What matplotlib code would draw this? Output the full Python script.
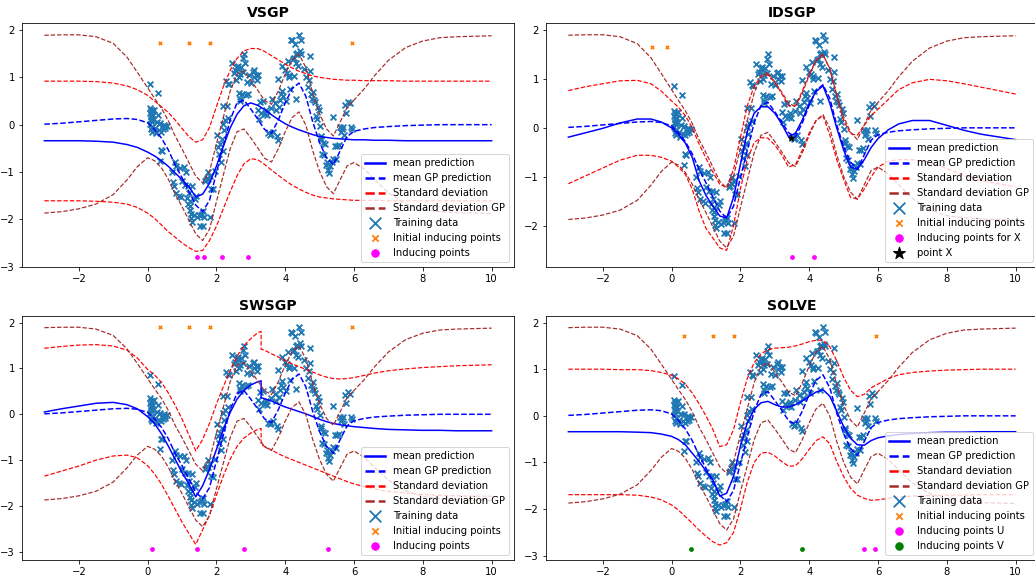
import matplotlib
matplotlib.use("Agg")
import matplotlib.pyplot as plt

# ---------------- data ----------------
X = [-3, -2.5, -2, -1.5, -1, -0.6, -0.3, 0, 0.2, 0.4, 0.6, 0.8, 1.0, 1.2, 1.4, 1.6, 1.8, 2.0, 2.2, 2.4,
     2.6, 2.8, 3.0, 3.2, 3.4, 3.6, 3.8, 4.0, 4.2, 4.4, 4.6, 4.8, 5.0, 5.2, 5.4, 5.6, 5.8, 6.0, 6.3, 6.6,
     7.0, 7.5, 8.0, 8.5, 9.0, 10.0]
# SWSGP has a jump at x = 3.3
X_SW = [-3, -2.5, -2, -1.5, -1, -0.6, -0.3, 0, 0.2, 0.4, 0.6, 0.8, 1.0, 1.2, 1.4, 1.6, 1.8, 2.0, 2.2, 2.4,
        2.6, 2.8, 3.0, 3.2, 3.3, 3.3, 3.4, 3.6, 3.8, 4.0, 4.2, 4.4, 4.6, 4.8, 5.0, 5.2, 5.4, 5.6, 5.8, 6.0,
        6.3, 6.6, 7.0, 7.5, 8.0, 8.5, 9.0, 10.0]

GP_MEAN = [0.01, 0.03, 0.06, 0.09, 0.12, 0.13, 0.11, 0.04, -0.1, -0.28, -0.53, -0.85, -1.12, -1.41, -1.7,
           -1.84, -1.6, -1.02, -0.46, 0.1, 0.46, 0.52, 0.33, 0.12, -0.1, -0.18, 0.1, 0.46, 0.76, 0.88,
           0.6, 0.06, -0.38, -0.7, -0.85, -0.55, -0.25, -0.14, -0.09, -0.06, -0.04, -0.02, -0.01, 0, 0, 0]
GP_UP = [1.89, 1.9, 1.9, 1.86, 1.72, 1.43, 1.11, 0.78, 0.56, 0.35, 0.09, -0.24, -0.51, -0.8, -1.09,
         -1.23, -0.99, -0.41, 0.15, 0.71, 1.07, 1.13, 0.94, 0.73, 0.51, 0.43, 0.71, 1.07, 1.37, 1.49,
         1.21, 0.67, 0.23, -0.09, -0.24, 0.06, 0.37, 0.52, 0.76, 1.04, 1.36, 1.63, 1.77, 1.84, 1.86, 1.88]
GP_LO = [-1.87, -1.84, -1.78, -1.68, -1.48, -1.17, -0.89, -0.7, -0.76, -0.91, -1.15, -1.46, -1.73, -2.02,
         -2.31, -2.45, -2.21, -1.63, -1.07, -0.51, -0.15, -0.09, -0.28, -0.49, -0.71, -0.79, -0.51, -0.15,
         0.15, 0.27, -0.01, -0.55, -0.99, -1.31, -1.46, -1.16, -0.87, -0.8, -0.94, -1.16, -1.44, -1.67,
         -1.79, -1.84, -1.86, -1.88]

VSGP_MEAN = [-0.34, -0.34, -0.34, -0.35, -0.37, -0.42, -0.48, -0.58, -0.66, -0.76, -0.88, -1.02, -1.16,
             -1.31, -1.53, -1.47, -1.24, -0.88, -0.46, -0.07, 0.22, 0.4, 0.46, 0.41, 0.32, 0.21, 0.11,
             0.02, -0.05, -0.11, -0.16, -0.21, -0.25, -0.27, -0.29, -0.3, -0.31, -0.32, -0.32, -0.33,
             -0.33, -0.34, -0.34, -0.34, -0.34, -0.34]
VSGP_UP = [0.92, 0.92, 0.92, 0.91, 0.88, 0.82, 0.74, 0.62, 0.5, 0.38, 0.26, 0.1, -0.08, -0.25, -0.37,
           -0.32, -0.06, 0.38, 0.8, 1.15, 1.4, 1.56, 1.61, 1.61, 1.55, 1.46, 1.37, 1.28, 1.2, 1.13, 1.08,
           1.03, 1.0, 0.98, 0.96, 0.95, 0.94, 0.94, 0.93, 0.93, 0.93, 0.92, 0.92, 0.92, 0.92, 0.92]
VSGP_LO = [-1.61, -1.61, -1.61, -1.62, -1.64, -1.68, -1.75, -1.87, -1.98, -2.12, -2.26, -2.38, -2.5,
           -2.6, -2.68, -2.66, -2.45, -2.15, -1.78, -1.42, -1.08, -0.83, -0.72, -0.74, -0.84, -0.96,
           -1.07, -1.18, -1.28, -1.36, -1.43, -1.49, -1.53, -1.55, -1.57, -1.58, -1.59, -1.6, -1.6, -1.6,
           -1.61, -1.61, -1.61, -1.61, -1.61, -1.61]

IDSGP_MEAN = [-0.19, -0.1, -0.01, 0.1, 0.18, 0.18, 0.12, 0.0, -0.13, -0.31, -0.6, -1.08, -1.38, -1.6,
              -1.8, -1.84, -1.42, -0.75, -0.08, 0.3, 0.43, 0.43, 0.3, 0.08, -0.18, -0.11, 0.16, 0.5, 0.74,
              0.86, 0.5, 0.0, -0.45, -0.8, -0.84, -0.65, -0.4, -0.22, -0.04, 0.08, 0.15, 0.15, 0.05,
              -0.05, -0.13, -0.24]
IDSGP_UP = [0.76, 0.84, 0.9, 0.96, 0.97, 0.9, 0.75, 0.55, 0.42, 0.25, 0.0, -0.33, -0.62, -0.9, -1.15,
            -1.22, -0.85, -0.2, 0.45, 0.85, 1.05, 1.08, 0.93, 0.7, 0.45, 0.45, 0.75, 1.1, 1.38, 1.5, 1.2,
            0.65, 0.15, -0.12, -0.15, 0.05, 0.25, 0.38, 0.58, 0.78, 0.92, 0.99, 0.96, 0.9, 0.83, 0.69]
IDSGP_LO = [-1.14, -0.98, -0.82, -0.66, -0.56, -0.56, -0.6, -0.68, -0.8, -0.95, -1.25, -1.7, -2.05,
            -2.25, -2.45, -2.5, -2.0, -1.25, -0.65, -0.3, -0.2, -0.21, -0.35, -0.55, -0.8, -0.75, -0.45,
            -0.1, 0.15, 0.25, -0.15, -0.65, -1.05, -1.42, -1.45, -1.25, -1.0, -0.8, -0.68, -0.65, -0.65,
            -0.7, -0.83, -0.97, -1.08, -1.2]

SWSGP_MEAN = [0.05, 0.12, 0.18, 0.24, 0.26, 0.21, 0.12, -0.05, -0.2, -0.42, -0.69, -0.98, -1.27, -1.52,
              -1.8, -1.56, -1.2, -0.77, -0.33, 0.04, 0.33, 0.52, 0.64, 0.71, 0.73, 0.36, 0.34, 0.29, 0.22,
              0.16, 0.11, 0.06, 0.01, -0.05, -0.11, -0.16, -0.2, -0.23, -0.25, -0.27, -0.29, -0.31,
              -0.33, -0.34, -0.35, -0.35, -0.36, -0.36]
SWSGP_UP = [1.44, 1.48, 1.51, 1.52, 1.49, 1.4, 1.23, 0.98, 0.86, 0.7, 0.47, 0.2, -0.1, -0.45, -0.8,
            -0.55, -0.2, 0.22, 0.6, 0.95, 1.27, 1.5, 1.65, 1.78, 1.81, 1.42, 1.4, 1.32, 1.25, 1.17, 1.1,
            1.04, 0.98, 0.92, 0.86, 0.81, 0.78, 0.77, 0.78, 0.8, 0.85, 0.9, 0.95, 0.99, 1.02, 1.04, 1.06,
            1.08]
SWSGP_LO = [-1.35, -1.24, -1.13, -1.0, -0.91, -0.89, -0.95, -1.12, -1.3, -1.52, -1.79, -2.07, -2.35,
            -2.6, -2.84, -2.52, -2.2, -1.77, -1.35, -0.98, -0.7, -0.52, -0.41, -0.33, -0.31, -0.66, -0.7,
            -0.78, -0.86, -0.93, -0.99, -1.05, -1.11, -1.17, -1.23, -1.29, -1.35, -1.41, -1.47, -1.52,
            -1.58, -1.63, -1.68, -1.72, -1.75, -1.77, -1.78, -1.79]

SOLVE_MEAN = [-0.34, -0.34, -0.34, -0.34, -0.35, -0.36, -0.39, -0.44, -0.51, -0.62, -0.8, -0.98, -1.18,
              -1.37, -1.72, -1.66, -1.3, -0.65, -0.15, 0.14, 0.28, 0.31, 0.24, 0.19, 0.19, 0.24, 0.32,
              0.42, 0.51, 0.56, 0.42, 0.1, -0.23, -0.48, -0.62, -0.63, -0.53, -0.47, -0.43, -0.4, -0.38,
              -0.36, -0.35, -0.35, -0.34, -0.34]
SOLVE_UP = [1.0, 1.0, 1.0, 0.99, 0.99, 0.97, 0.93, 0.87, 0.79, 0.68, 0.49, 0.26, 0.0, -0.29, -0.66,
            -0.62, -0.3, 0.28, 0.8, 1.14, 1.33, 1.42, 1.45, 1.46, 1.47, 1.5, 1.54, 1.59, 1.62, 1.62, 1.48,
            1.18, 0.83, 0.55, 0.41, 0.46, 0.6, 0.68, 0.8, 0.88, 0.93, 0.96, 0.98, 0.99, 1.0, 1.0]
SOLVE_LO = [-1.69, -1.69, -1.69, -1.69, -1.7, -1.74, -1.8, -1.91, -2.02, -2.16, -2.3, -2.45, -2.58, -2.7,
            -2.77, -2.72, -2.5, -2.0, -1.42, -1.0, -0.8, -0.78, -0.86, -0.98, -1.08, -1.07, -0.92, -0.72,
            -0.53, -0.45, -0.6, -0.98, -1.3, -1.55, -1.7, -1.77, -1.81, -1.8, -1.77, -1.74, -1.72, -1.71,
            -1.7, -1.7, -1.69, -1.69]

TRAIN_X = [0.08, 0.07, 0.09, 0.08, 0.10, 0.09, 0.11, 0.08, 0.12, 0.10, 0.14, 0.15, 0.13, 0.16,
           0.20, 0.22, 0.25, 0.27, 0.31, 0.30, 0.34, 0.37, 0.40, 0.42, 0.45, 0.48, 0.50, 0.52, 0.38, 0.41, 0.35, 0.55,
           0.72, 0.75, 0.80, 0.84, 0.82, 0.90, 0.93, 0.97, 0.99, 0.78,
           1.05, 1.10, 1.13, 1.18, 1.20, 1.22, 1.22, 1.24, 1.25, 1.27, 1.30, 1.30, 1.18, 1.15,
           1.35, 1.38, 1.42, 1.45, 1.48, 1.52, 1.55, 1.58, 1.60, 1.62, 1.65, 1.68, 1.70,
           1.72, 1.75, 1.77, 1.80, 1.82, 1.85, 1.90, 1.95,
           2.02, 2.05, 2.08, 2.10, 2.12, 2.15, 2.18, 2.20, 2.22, 2.26, 2.28, 2.30, 2.33, 2.35, 2.38, 2.20,
           2.45, 2.50, 2.55, 2.58, 2.60, 2.62, 2.64, 2.65, 2.66, 2.68, 2.70, 2.72, 2.74, 2.76, 2.78, 2.80, 2.82, 2.70, 2.85, 2.88,
           2.92, 2.95, 3.00, 3.05, 3.08, 3.10, 3.15, 3.18, 3.20, 3.22, 3.25, 3.28, 3.30,
           3.35, 3.40, 3.42, 3.45, 3.48, 3.50, 3.55, 3.58, 3.60, 3.62, 3.65, 3.70, 3.72, 3.75, 3.78, 3.80, 3.82, 3.85, 3.88, 3.90,
           3.92, 3.95, 4.00, 4.02, 4.05, 4.08, 4.10, 4.12, 4.15, 4.18, 4.20, 4.22, 4.25, 4.28, 4.30, 4.32, 4.35, 4.38, 4.40, 4.42, 4.45, 4.46, 4.25, 4.30,
           4.55, 4.60, 4.65, 4.68, 4.72, 4.73, 4.75, 4.78, 4.80, 4.85, 4.88, 4.90, 4.92, 4.95, 4.98, 5.00,
           5.03, 5.05, 5.08, 5.10, 5.12, 5.15, 5.18, 5.22, 5.25, 5.28, 5.30, 5.35, 5.38, 5.40, 5.45, 5.48,
           5.52, 5.55, 5.58, 5.62, 5.65, 5.68, 5.72, 5.75, 5.78, 5.82, 5.88, 5.92, 5.95]
TRAIN_Y = [0.86, 0.35, 0.30, 0.24, 0.18, 0.12, 0.07, 0.02, -0.05, -0.10, 0.30, 0.20, -0.15, 0.10,
           0.32, -0.08, -0.18, 0.05, 0.67, 0.21, -0.12, 0.03, -0.15, -0.05, -0.10, 0.00, -0.03, -0.08, -0.53, -0.55, -0.76, -0.02,
           -1.00, -1.22, -0.80, -0.88, -1.45, -1.50, -0.92, -1.53, -1.20, -1.30,
           -0.90, -1.28, -1.00, -1.29, -1.45, -1.62, -1.72, -1.80, -1.98, -1.88, -1.30, -2.05, -1.68, -1.55,
           -1.92, -1.58, -1.50, -1.96, -1.92, -2.15, -1.90, -1.88, -1.83, -2.15, -1.95, -1.20, -1.18,
           -1.12, -1.15, -1.00, -1.08, -1.95, -1.35, -1.36, -0.98,
           -0.22, -0.48, -0.62, -0.40, -0.78, -0.30, -0.55, 0.40, -0.12, 0.10, 0.93, 0.40, 0.87, 0.15, 0.85, 0.02,
           1.30, 1.10, 1.15, 0.95, 1.22, 1.25, 1.18, 1.00, 0.68, 0.55, 1.08, 1.22, 0.65, 1.12, 1.40, 1.50, 1.30, 0.50, 0.62, 0.90,
           0.65, 1.05, 0.88, 1.12, 1.00, 1.15, 1.05, 0.95, 1.05, 0.32, 0.12, 0.48, 0.25,
           0.50, 0.22, 0.25, 0.30, 0.20, -0.18, -0.22, 0.35, -0.20, 0.55, -0.15, 0.45, 0.30, -0.25, 0.97, -0.32, 0.38, 0.52, 0.65, 0.72,
           1.25, 0.60, 1.15, 0.50, 1.10, 1.35, 1.05, 1.00, 0.75, 1.80, 1.78, 1.38, 1.40, 1.70, 1.30, 1.50, 1.52, 1.25, 1.90, 1.55, 1.80, 1.50, 1.02, 0.55,
           1.18, 1.00, 0.80, 0.95, 1.45, 1.13, 0.65, 0.55, 0.70, 0.52, 0.47, 0.18, 0.12, 0.38, 0.30, -0.02,
           -0.25, -0.30, -0.62, -0.38, -0.65, -0.40, -0.85, -0.78, -0.95, -1.02, -0.88, -0.80, 0.17, -0.72, -0.45, -0.73,
           -0.45, -0.42, -0.05, -0.15, -0.10, -0.05, -0.22, 0.42, 0.25, 0.48, 0.45, -0.05, -0.10]

INIT_IND_X = [0.36, 1.2, 1.8, 5.95]
INIT_IND_Y_VSGP = 1.72
INIT_IND_Y_SWSGP = 1.9
INIT_IND_Y_SOLVE = 1.72
IDSGP_INIT_X = [-0.56, -0.14]
IDSGP_INIT_Y = 1.65

VSGP_IND_X = [1.44, 1.65, 2.17, 2.93]
VSGP_IND_Y = -2.79
IDSGP_IND_X = [3.51, 4.14]
IDSGP_IND_Y = -2.63
IDSGP_POINT = (3.48, -0.2)
SWSGP_IND_X = [0.13, 1.43, 2.79, 5.23]
SWSGP_IND_Y = -2.95
SOLVE_U_X = [5.6, 5.91]
SOLVE_V_X = [0.56, 3.78]
SOLVE_IND_Y = -2.86

# ---------------- figure ----------------
W, H = 1035, 575
fig = plt.figure(figsize=(W / 72, H / 72), dpi=72)

aw, ah = 492 / W, 244 / H
pos = {
    "VSGP": [22 / W, (H - 267) / H, aw, ah],
    "IDSGP": [546 / W, (H - 267) / H, aw, ah],
    "SWSGP": [22 / W, (H - 560) / H, aw, ah],
    "SOLVE": [546 / W, (H - 560) / H, aw, ah],
}
ylims = {"VSGP": (-3.01, 2.15), "IDSGP": (-2.84, 2.14), "SWSGP": (-3.18, 2.145), "SOLVE": (-3.09, 2.14)}


def base(ax, xs, mean, up, lo):
    ax.plot(xs, mean, color="blue", lw=1.5, label="mean prediction")
    ax.plot(X, GP_MEAN, color="blue", ls="--", lw=1.5, label="mean GP prediction")
    ax.plot(xs, up, color="red", ls="--", lw=1.2, label="Standard deviation")
    ax.plot(xs, lo, color="red", ls="--", lw=1.2)
    ax.plot(X, GP_UP, color="brown", ls="--", lw=1.2, label="Standard deviation GP")
    ax.plot(X, GP_LO, color="brown", ls="--", lw=1.2)
    ax.scatter(TRAIN_X, TRAIN_Y, marker="x", s=34, color="#1f77b4", linewidths=1.8, label="Training data")


def finish(ax, name):
    ax.set_title(name, fontsize=14, fontweight="bold")
    ax.set_xlim(-3.65, 10.65)
    ax.set_ylim(*ylims[name])
    leg = ax.legend(loc="lower right", fontsize=10, markerscale=2)
    for ln in leg.get_lines():
        ln.set_linewidth(2.5)


ax = fig.add_axes(pos["VSGP"])
base(ax, X, VSGP_MEAN, VSGP_UP, VSGP_LO)
ax.scatter(INIT_IND_X, [INIT_IND_Y_VSGP] * len(INIT_IND_X), marker="x", s=10, color="#ff7f0e",
           linewidths=1.8, label="Initial inducing points")
ax.scatter(VSGP_IND_X, [VSGP_IND_Y] * len(VSGP_IND_X), marker="o", s=14, color="magenta", label="Inducing points")
finish(ax, "VSGP")

ax = fig.add_axes(pos["IDSGP"])
base(ax, X, IDSGP_MEAN, IDSGP_UP, IDSGP_LO)
ax.scatter(IDSGP_INIT_X, [IDSGP_INIT_Y] * len(IDSGP_INIT_X), marker="x", s=10, color="#ff7f0e",
           linewidths=1.8, label="Initial inducing points")
ax.scatter(IDSGP_IND_X, [IDSGP_IND_Y] * len(IDSGP_IND_X), marker="o", s=14, color="magenta",
           label="Inducing points for X")
ax.scatter([IDSGP_POINT[0]], [IDSGP_POINT[1]], marker="*", s=40, color="black", label="point X", zorder=5)
finish(ax, "IDSGP")

ax = fig.add_axes(pos["SWSGP"])
base(ax, X_SW, SWSGP_MEAN, SWSGP_UP, SWSGP_LO)
ax.scatter(INIT_IND_X, [INIT_IND_Y_SWSGP] * len(INIT_IND_X), marker="x", s=10, color="#ff7f0e",
           linewidths=1.8, label="Initial inducing points")
ax.scatter(SWSGP_IND_X, [SWSGP_IND_Y] * len(SWSGP_IND_X), marker="o", s=14, color="magenta", label="Inducing points")
finish(ax, "SWSGP")

ax = fig.add_axes(pos["SOLVE"])
base(ax, X, SOLVE_MEAN, SOLVE_UP, SOLVE_LO)
ax.scatter(INIT_IND_X, [INIT_IND_Y_SOLVE] * len(INIT_IND_X), marker="x", s=10, color="#ff7f0e",
           linewidths=1.8, label="Initial inducing points")
ax.scatter(SOLVE_U_X, [SOLVE_IND_Y] * len(SOLVE_U_X), marker="o", s=14, color="magenta", label="Inducing points U")
ax.scatter(SOLVE_V_X, [SOLVE_IND_Y] * len(SOLVE_V_X), marker="o", s=14, color="green", label="Inducing points V")
finish(ax, "SOLVE")

fig.savefig("out.png", dpi=72)
